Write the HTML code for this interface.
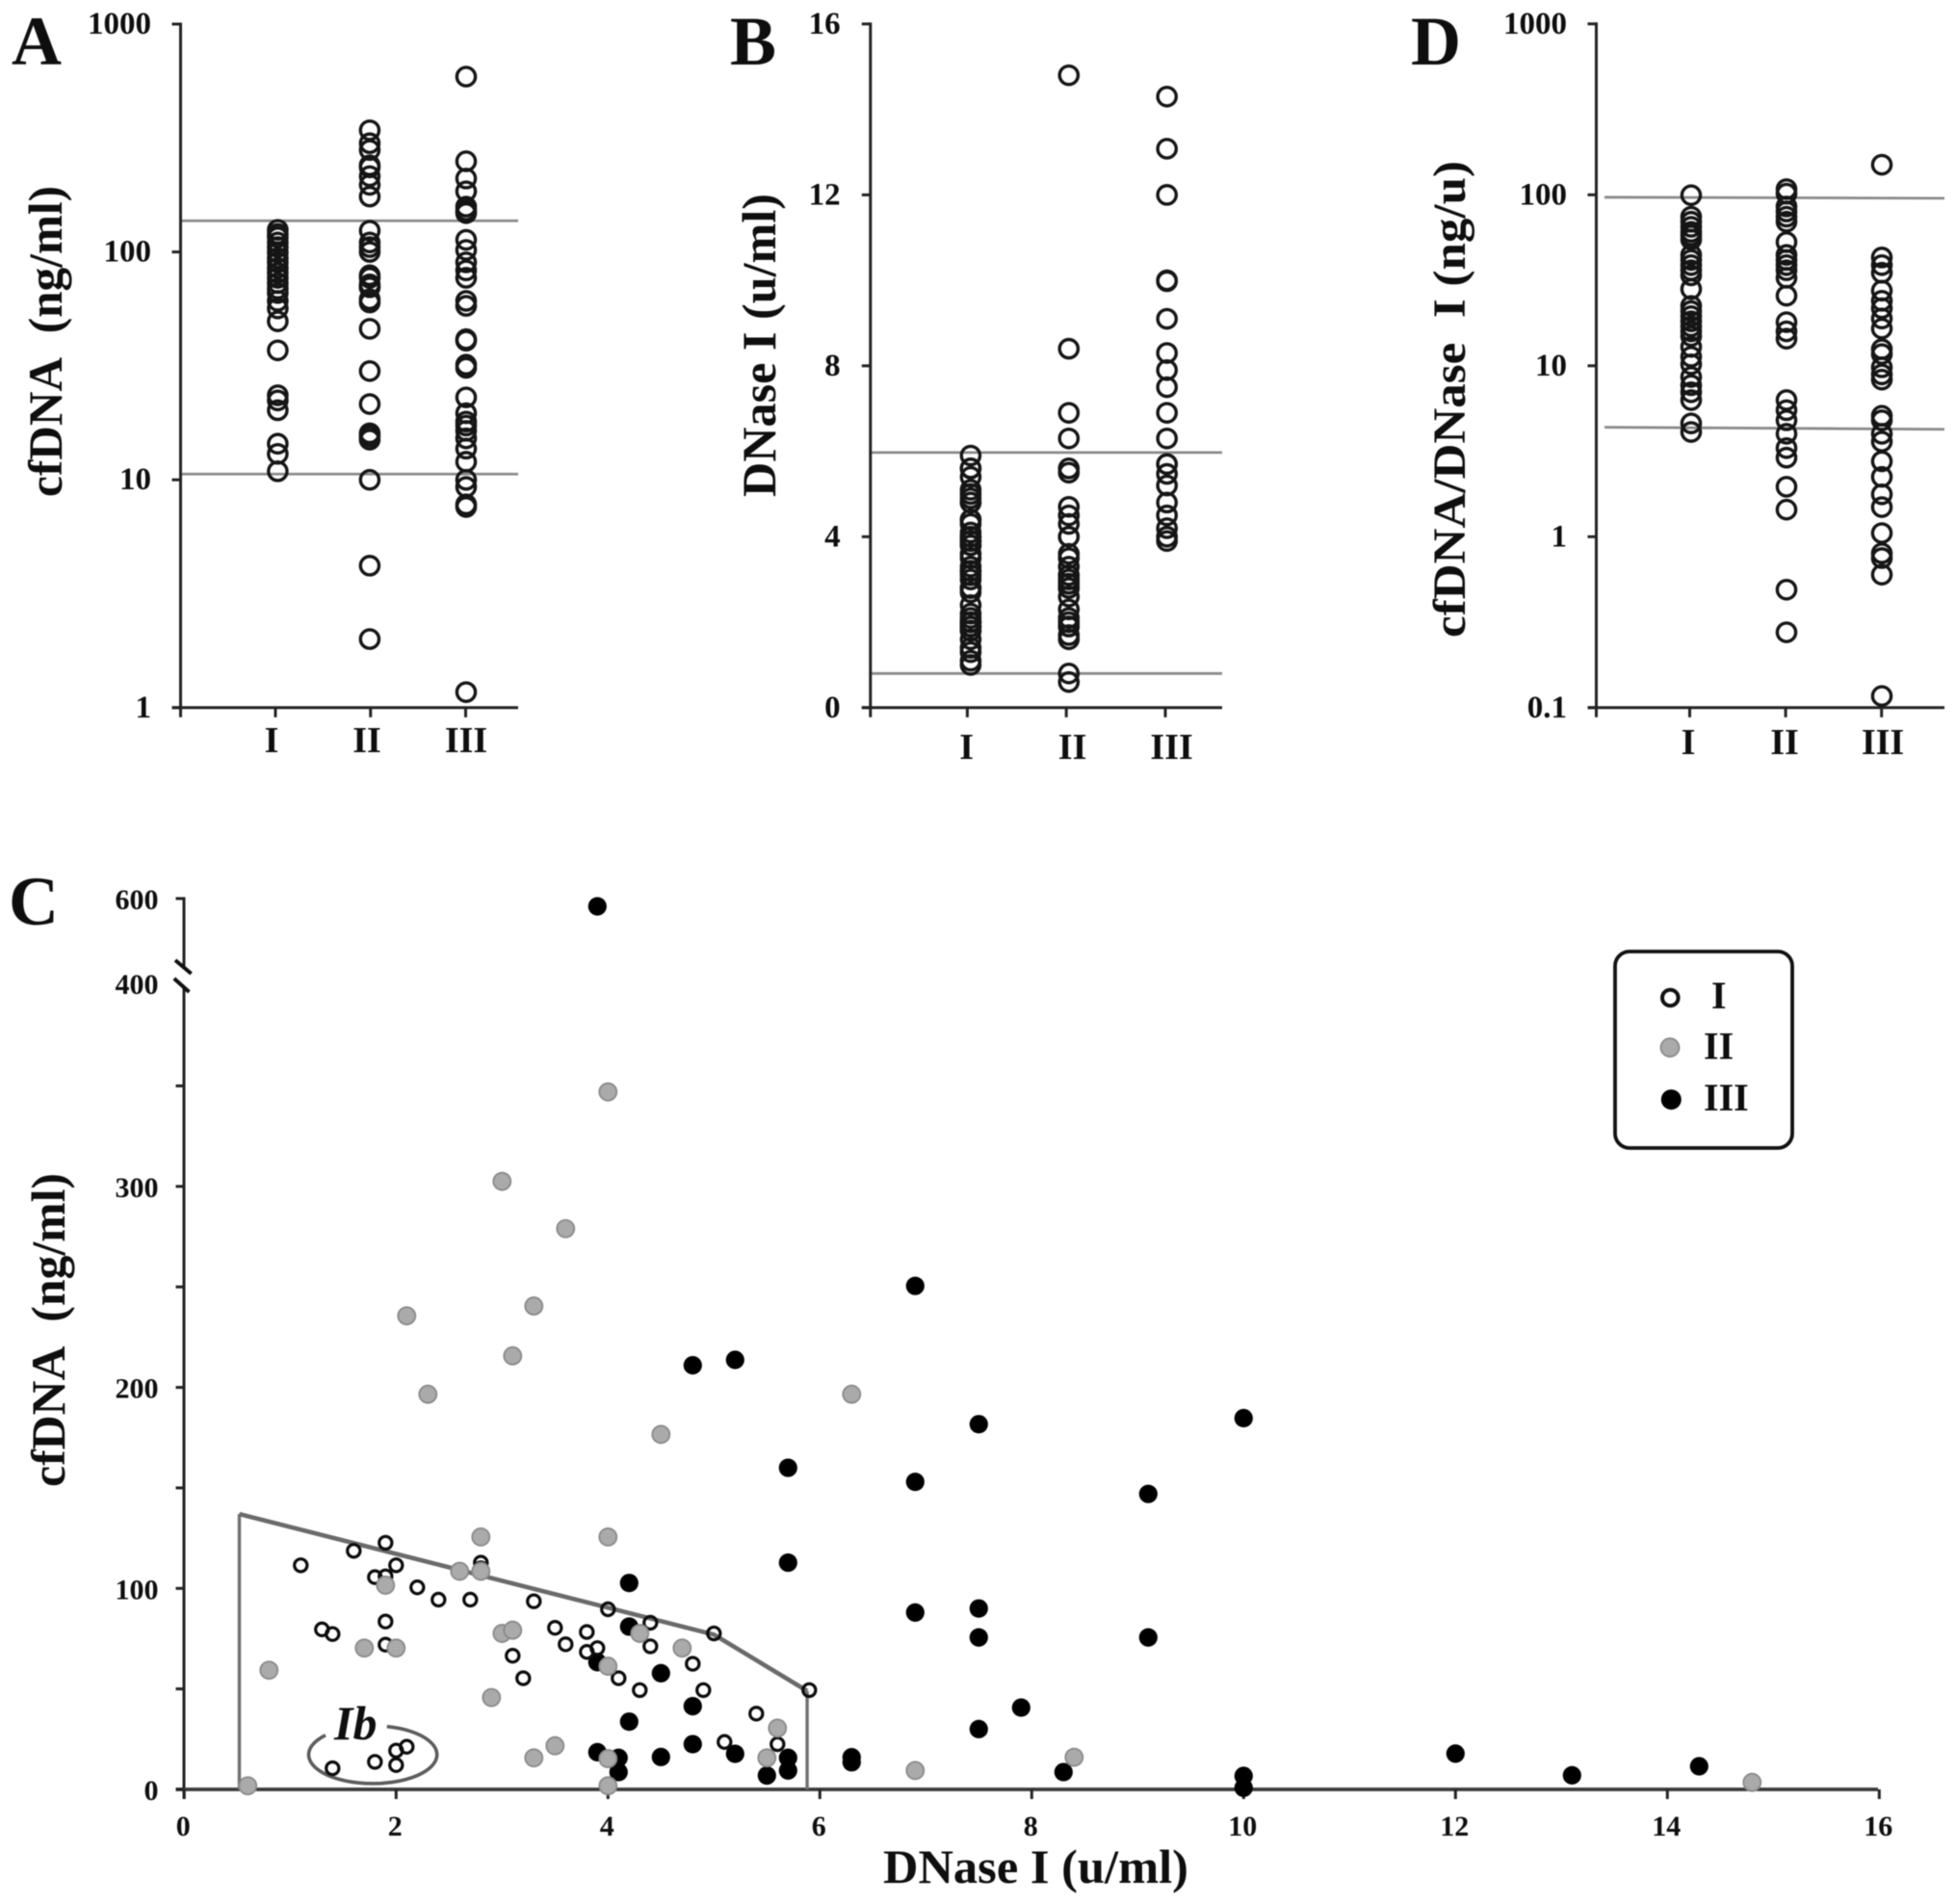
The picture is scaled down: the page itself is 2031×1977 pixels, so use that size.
<!DOCTYPE html>
<html lang="en">
<head>
<meta charset="utf-8">
<title>cfDNA and DNase I panels</title>
<style>
html,body{margin:0;padding:0;background:#fff;width:2031px;height:1977px;overflow:hidden}
svg{display:block;filter:blur(.6px)}
text{font-family:"Liberation Serif",serif;font-weight:700;fill:#0e0e0e}
</style>
</head>
<body>
<svg id="fig" xmlns="http://www.w3.org/2000/svg" width="2031" height="1977" viewBox="0 0 2031 1977"></svg>
<script>
const groupLabels = ['I', 'II', 'III'];

const aTicks = ['1', '10', '100', '1000'];
const aRefStart = [137, 10.6];
const aRefEnd = [137, 10.6];
const aGroup1 = [125,120,116,110,105,99.5,94,90,85,81,77,73,69,66,61,56.5,49.6,37,23.5,22.3,20.2,14.4,13,10.9];
const aGroup2 = [342,300,280,240,235,215,197,175,124,110,105,100,79,77,72,70,70,62,60,46,30,21.5,16,15.5,15,10,4.2,2];
const aGroup3 = [588,250,210,184.5,158,152,148,113,102,90,83,77,61,58,41.4,40.8,32,31,23,19.6,18,17.3,16.4,15.2,13.7,12,10,9.3,7.8,7.6,1.17];

const bTicks = ['0', '4', '8', '12', '16'];
const bRefStart = [5.97, 0.8];
const bRefEnd = [5.97, 0.8];
const bGroup1 = [1.0,1.1,1.3,1.4,1.6,1.8,1.8,1.9,1.9,1.9,2.0,2.0,2.0,2.1,2.2,2.4,2.7,2.8,2.8,3.0,3.1,3.2,3.2,3.3,3.5,3.6,3.8,3.8,3.9,3.9,4.0,4.0,4.1,4.3,4.4,4.4,4.8,4.8,4.9,5.0,5.1,5.4,5.6,5.6,5.9];
const bGroup2 = [14.8,8.4,6.9,6.3,5.6,5.5,4.7,4.5,4.3,4.0,4.0,3.6,3.5,3.3,3.1,3.1,3.0,2.9,2.9,2.8,2.8,2.6,2.3,2.1,2.0,1.9,1.9,1.7,1.6,0.8,0.6];
const bGroup3 = [14.3,13.08,12,10,9.98,9.1,8.3,7.9,7.5,6.9,6.3,5.7,5.7,5.47,5.2,4.8,4.5,4.2,4.0,3.9];

const dTicks = ['0.1', '1', '10', '100', '1000'];
const dRefStart = [96.8, 4.37];
const dRefEnd = [95.5, 4.25];
const dGroup1 = [99.5,74.5,69.6,65,60.7,57.8,54.7,44.5,41.6,38.8,36.2,33.8,28.1,22.4,20.9,19.5,18.2,17,15.9,14.9,12.9,11.3,10.2,8.6,7.7,7,6.3,4.6,4.1];
const dGroup2 = [108,101.6,85.5,79.9,74.5,69.6,52.9,44.5,41.6,38.8,36.2,32.7,25.7,18,15.9,14.4,6.3,5.5,4.8,4,3.3,2.9,1.96,1.44,0.49,0.276];
const dGroup3 = [150,43,38.8,35,27.5,24,21.7,18.9,16.5,12.5,11.7,9.8,8.9,8.3,5.1,4.8,4,3.6,2.76,2.24,1.77,1.49,1.05,0.8,0.75,0.6,0.117];

const cXTicks = ['0','2','4','6','8','10','12','14','16'];
const cYMinorTicks = [0,50,100,150,200,250,300,350,600];
const cYTickLabels = ['0','100','200','300','400','600'];
const cGroup1X = [1.1,1.6,1.9,2.0,1.8,1.9,2.2,2.4,2.7,2.8,2.8,3.3,4.0,4.4,5.0,5.9,1.3,1.4,1.9,1.9,3.5,3.6,3.8,3.8,3.9,3.1,3.2,4.4,4.8,4.1,4.3,4.9,5.4,5.1,5.6,2.1,2.0,2.0,1.8,1.4];
const cGroup1Y = [111.5,118.7,122.7,111.5,105.6,106,100.5,94.4,94.4,112.8,110,93.6,89.6,82.9,77.6,49.4,79.6,77.3,83.5,72,80.4,72.2,78.3,68.4,70.3,66.5,55.3,71.2,62.5,55.3,49.4,49.4,37.7,23.6,22.5,21.2,19.3,12.1,13.7,10.5];
const cGroup2X = [0.6,0.8,1.7,2.0,1.9,2.6,2.8,2.8,3.0,3.1,2.9,3.3,3.5,4.0,4.0,4.0,4.0,4.3,4.7,5.6,5.5,6.9,4.0,3.0,3.6,3.3,2.1,3.1,2.3,4.5,6.3,8.4,14.8];
const cGroup2Y = [1.8,59.3,70.3,70.3,101.6,108.5,108.5,125.6,77.6,79.2,45.7,15.7,21.7,125.6,61.3,15.3,1.8,77.6,70.3,30.5,15.7,9.4,347,302.5,279,240.5,235.6,215.7,196.6,176.6,196.6,16,3.5];
const cGroup3X = [3.9,6.9,4.8,5.2,7.5,10,5.7,6.9,9.1,5.7,6.9,7.5,7.5,9.1,7.9,7.5,6.3,6.3,8.3,10,10,12,13.1,14.3,4.2,4.2,3.9,4.5,4.8,4.2,4.8,3.9,4.1,4.1,4.5,5.2,5.7,5.7,5.5];
const cGroup3Y = [582,250.5,211,213.7,181.7,184.7,160,153,147,112.8,88,90,75.6,75.6,40.7,30,16,13.5,8.6,6.7,0.8,17.8,7,11.5,102.7,81,63.3,57.8,41.4,33.7,22.5,18.5,15.7,8.6,16.1,17.7,15.7,9.4,6.9];
const cBoundaryX = [0.52, 5.0, 5.88];
const cBoundaryY = [137, 77, 49];

const NS = 'http://www.w3.org/2000/svg';
const fig = document.getElementById('fig');

function el(tag, attrs, parent) {
  const node = document.createElementNS(NS, tag);
  for (const key in attrs) node.setAttribute(key, attrs[key]);
  (parent || fig).appendChild(node);
  return node;
}

function label(str, attrs, parent) {
  const node = el('text', attrs, parent);
  node.textContent = str;
  return node;
}

function drawPanel(p) {
  const g = el('g', {});
  
  

  const letter = label(p.id.toUpperCase(), {x: p.letterX, y: 67, 'font-size': 72}, g);
  
  

  const title = label(p.title, {
    x: p.titleX, y: p.titleBottom, 'font-size': p.titleSize,
    textLength: p.titleLen, lengthAdjust: 'spacingAndGlyphs',
    transform: 'rotate(-90 ' + p.titleX + ' ' + p.titleBottom + ')'
  }, g);
  
  

  const axisY = p.y(Number(p.ticks[0]));
  const topY = p.y(Number(p.ticks[p.ticks.length - 1]));

  p.refStart.forEach(function (v, i) {
    const ref = el('line', {x1: p.refLeft, x2: p.right, y1: p.y(v), y2: p.y(p.refEnd[i]), stroke: '#8a8a8a', 'stroke-width': 2.8}, g);
    
    
  });

  const yAxis = el('line', {x1: p.axisX, x2: p.axisX, y1: topY - 1.5, y2: axisY + 10, stroke: '#222', 'stroke-width': 3}, g);
  
  

  const xAxis = el('line', {x1: p.axisX - 9, x2: p.right, y1: axisY, y2: axisY, stroke: '#222', 'stroke-width': 3}, g);
  
  

  p.ticks.forEach(function (t) {
    const yy = p.y(Number(t));
    const tick = el('line', {x1: p.axisX - 9, x2: p.axisX, y1: yy, y2: yy, stroke: '#222', 'stroke-width': 3}, g);
    
    
    const tl = label(t, {x: p.tickRight, y: yy + 10, 'text-anchor': 'end', 'font-size': 33}, g);
    
    
  });

  groupLabels.forEach(function (name, i) {
    const tx = p.tickX(i);
    const tick = el('line', {x1: tx, x2: tx, y1: axisY, y2: axisY + 10, stroke: '#222', 'stroke-width': 3}, g);
    
    
    const tl = label(name, {x: p.labelX(i), y: p.labelY, 'text-anchor': 'middle', 'font-size': 38}, g);
    
    
    p.groups[i].forEach(function (v) {
      const c = el('circle', {cx: p.markX(i), cy: p.y(v), r: 9.6, fill: 'none', stroke: '#151515', 'stroke-width': 3.4}, g);
      
      
    });
  });
}

drawPanel({
  id: 'a', letterX: 12, title: 'cfDNA\u00A0\u00A0(ng/ml)', titleX: 64, titleBottom: 516, titleLen: 323, titleSize: 50,
  ticks: aTicks, refStart: aRefStart, refEnd: aRefEnd, groups: [aGroup1, aGroup2, aGroup3],
  axisX: 187.5, right: 538, refLeft: 187.5, tickRight: 157, labelY: 781,
  y: function (v) { return 734.8 - Math.log10(v) * 236.6; },
  tickX: function (i) { return 286 + 98.75 * i; },
  labelX: function (i) { return 282 + 99 * i + (i === 2 ? 4 : 0); },
  markX: function (i) { return 288.4 + (i === 1 ? 95.5 : 97.8 * i); }
});

drawPanel({
  id: 'b', letterX: 758, title: 'DNase I (u/ml)', titleX: 805, titleBottom: 516, titleLen: 315, titleSize: 50,
  ticks: bTicks, refStart: bRefStart, refEnd: bRefEnd, groups: [bGroup1, bGroup2, bGroup3],
  axisX: 903.8, right: 1269, refLeft: 903.8, tickRight: 872.6, labelY: 788,
  y: function (v) { return 734.8 - v * 44.37; },
  tickX: function (i) { return 1004.4 + 102.8 * i; },
  labelX: function (i) { return 1003.6 + 110 * i - (i === 2 ? 7 : 0); },
  markX: function (i) { return 1007.9 + 101.9 * i; }
});

drawPanel({
  id: 'd', letterX: 1465, title: 'cfDNA/DNase\u00A0\u00A0I (ng/u)', titleX: 1521, titleBottom: 662, titleLen: 495, titleSize: 48,
  ticks: dTicks, refStart: dRefStart, refEnd: dRefEnd, groups: [dGroup1, dGroup2, dGroup3],
  axisX: 1657.5, right: 2019, refLeft: 1666, tickRight: 1627, labelY: 783,
  y: function (v) { return 734.8 - (Math.log10(v) + 1) * 177.5; },
  tickX: function (i) { return 1754.5 + 99.6 * i; },
  labelX: function (i) { return 1753 + 100 * i + (i === 2 ? 2 : 0); },
  markX: function (i) { return 1756 + 99 * i; }
});

/* Panel C */
function cx(v) { return 191.3 + v * 110; }
function cy(v) { return v <= 400 ? 1858 - v * 2.087 : 1023 - (v - 400) * 0.45; }

const pc = el('g', {});



const letterC = label('C', {x: 9, y: 960, 'font-size': 72}, pc);



const cYTitle = label('cfDNA\u00A0\u00A0(ng/ml)', {x: 67, y: 1544, 'font-size': 50, textLength: 326, lengthAdjust: 'spacingAndGlyphs', transform: 'rotate(-90 67 1544)'}, pc);



const cXTitle = label('DNase I (u/ml)', {x: 917, y: 1955, 'font-size': 50, textLength: 317, lengthAdjust: 'spacingAndGlyphs'}, pc);



const upperAxis = el('line', {x1: 191, x2: 191, y1: cy(600) - 1.5, y2: 1005, stroke: '#222', 'stroke-width': 3}, pc);



const lowerAxis = el('line', {x1: 191, x2: 191, y1: 1024, y2: 1868, stroke: '#222', 'stroke-width': 3}, pc);



const breakTop = el('line', {x1: 182, y1: 997, x2: 198.6, y2: 1011, stroke: '#111', 'stroke-width': 4}, pc);



const breakBottom = el('line', {x1: 180.8, y1: 1016, x2: 196.4, y2: 1030, stroke: '#111', 'stroke-width': 4}, pc);



const cXAxis = el('line', {x1: 182.5, x2: 1950, y1: cy(0), y2: cy(0), stroke: '#3c3c3c', 'stroke-width': 3.8}, pc);



cYMinorTicks.forEach(function (v) {
  const t = el('line', {x1: 182.5, x2: 191, y1: cy(v), y2: cy(v), stroke: '#222', 'stroke-width': 3}, pc);
  
  
});

cYTickLabels.forEach(function (s) {
  const t = label(s, {x: 164.5, y: cy(Number(s)) + (s === '400' ? 9 : 11), 'text-anchor': 'end', 'font-size': 30}, pc);
  
  
});

cXTicks.forEach(function (s) {
  const xx = cx(Number(s));
  const t = el('line', {x1: xx, x2: xx, y1: cy(0), y2: cy(0) + 10, stroke: '#222', 'stroke-width': 3}, pc);
  
  
  const tl = label(s, {x: xx - 1, y: 1906, 'text-anchor': 'middle', 'font-size': 30}, pc);
  
  
});

const leftEdge = el('line', {x1: cx(cBoundaryX[0]), x2: cx(cBoundaryX[0]), y1: cy(cBoundaryY[0]), y2: cy(0), stroke: '#707070', 'stroke-width': 3.4}, pc);



const rightEdge = el('line', {x1: cx(cBoundaryX[2]), x2: cx(cBoundaryX[2]), y1: cy(cBoundaryY[2]), y2: cy(0), stroke: '#707070', 'stroke-width': 3.4}, pc);



const topEdge = el('polyline', {
  points: cBoundaryX.map(function (v, i) { return cx(v) + ',' + cy(cBoundaryY[i]); }).join(' '),
  fill: 'none', stroke: '#6a6a6a', 'stroke-width': 4.6
}, pc);



const ibEllipse = el('path', {d: 'M401.8 1792.7 A66.6 30 0 1 1 338 1801.7', fill: 'none', stroke: '#5c5c5c', 'stroke-width': 3.6}, pc);



const ibLabel = label('Ib', {x: 347, y: 1806, 'font-size': 50, 'font-style': 'italic'}, pc);



cGroup3X.forEach(function (v, i) {
  const c = el('circle', {cx: cx(v), cy: cy(cGroup3Y[i]), r: 9.6, fill: '#000'}, pc);
  
  
});

cGroup1X.forEach(function (v, i) {
  const c = el('circle', {cx: cx(v), cy: cy(cGroup1Y[i]), r: 6.6, fill: 'none', stroke: '#0c0c0c', 'stroke-width': 3.2}, pc);
  
  
});

cGroup2X.forEach(function (v, i) {
  const c = el('circle', {cx: cx(v), cy: cy(cGroup2Y[i]), r: 9, fill: '#aaa', stroke: '#8a8a8a', 'stroke-width': 1.8}, pc);
  
  
});

/* Legend */
const legend = el('g', {}, pc);



const legendBox = el('rect', {x: 1677, y: 988, width: 184, height: 204, rx: 15, ry: 15, fill: '#fff', stroke: '#111', 'stroke-width': 3.8}, legend);



const markI = el('circle', {cx: 1734.3, cy: 1036, r: 8.3, fill: '#fff', stroke: '#111', 'stroke-width': 4}, legend);



const markII = el('circle', {cx: 1734, cy: 1087.7, r: 9.5, fill: '#aaa', stroke: '#8a8a8a', 'stroke-width': 1.8}, legend);



const markIII = el('circle', {cx: 1735.3, cy: 1141.7, r: 10.5, fill: '#000'}, legend);



const textI = label('I', {x: 1777, y: 1047, 'font-size': 40}, legend);



const textII = label('II', {x: 1769, y: 1099.5, 'font-size': 40}, legend);



const textIII = label('III', {x: 1769, y: 1153, 'font-size': 40}, legend);


</script>
</body>
</html>
